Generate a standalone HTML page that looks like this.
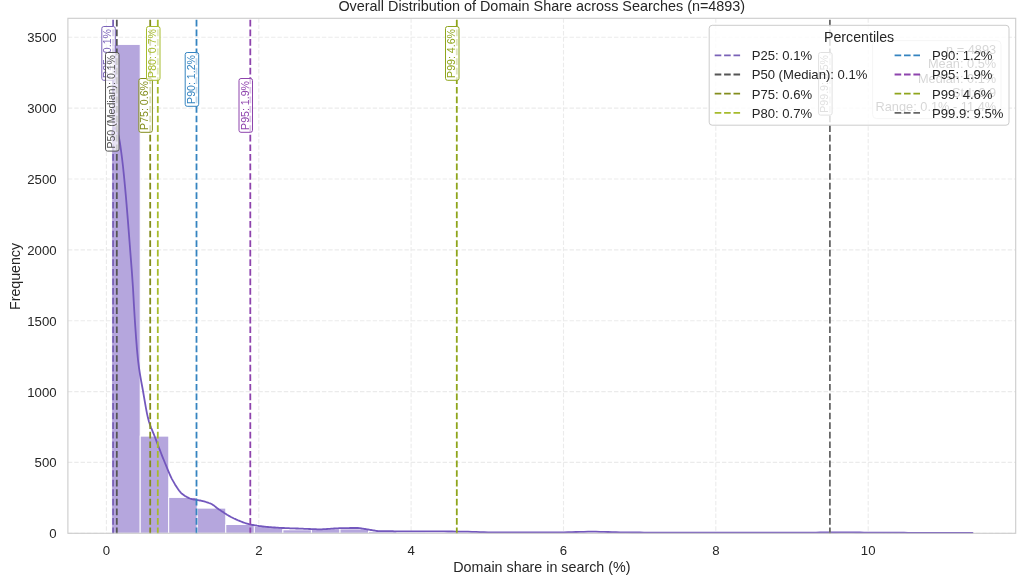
<!DOCTYPE html>
<html lang="en"><head><meta charset="utf-8"><title>Overall Distribution of Domain Share across Searches</title>
<style>html,body{margin:0;padding:0;background:#fff}body{width:1024px;height:576px;overflow:hidden}svg{display:block}text{font-family:"Liberation Sans",Arial,Helvetica,sans-serif}</style>
</head><body>
<svg width="1024" height="576" viewBox="0 0 1024 576">
<rect x="0" y="0" width="1024" height="576" fill="#ffffff"/>
<defs><clipPath id="ax"><rect x="67.9" y="18.3" width="947.8" height="515.4"/></clipPath></defs>
<g stroke="#ebebeb" stroke-width="1.1" stroke-dasharray="4.4 1.95" fill="none">
<line x1="106.4" y1="18.3" x2="106.4" y2="533.3"/>
<line x1="258.8" y1="18.3" x2="258.8" y2="533.3"/>
<line x1="411.1" y1="18.3" x2="411.1" y2="533.3"/>
<line x1="563.5" y1="18.3" x2="563.5" y2="533.3"/>
<line x1="715.8" y1="18.3" x2="715.8" y2="533.3"/>
<line x1="868.2" y1="18.3" x2="868.2" y2="533.3"/>
<line x1="67.9" y1="533.3" x2="1015.7" y2="533.3"/>
<line x1="67.9" y1="462.4" x2="1015.7" y2="462.4"/>
<line x1="67.9" y1="391.6" x2="1015.7" y2="391.6"/>
<line x1="67.9" y1="320.7" x2="1015.7" y2="320.7"/>
<line x1="67.9" y1="249.9" x2="1015.7" y2="249.9"/>
<line x1="67.9" y1="179.0" x2="1015.7" y2="179.0"/>
<line x1="67.9" y1="108.1" x2="1015.7" y2="108.1"/>
<line x1="67.9" y1="37.3" x2="1015.7" y2="37.3"/>
</g>
<g fill="#b5a6dd" stroke="#ffffff" stroke-width="1">
<rect x="111.6" y="44.4" width="28.6" height="488.9"/>
<rect x="140.2" y="436.1" width="28.6" height="97.2"/>
<rect x="168.7" y="497.4" width="28.6" height="35.9"/>
<rect x="197.2" y="508.1" width="28.6" height="25.2"/>
<rect x="225.8" y="524.5" width="28.6" height="8.8"/>
<rect x="254.3" y="526.5" width="28.6" height="6.8"/>
<rect x="282.9" y="529.8" width="28.6" height="3.5"/>
<rect x="311.4" y="528.8" width="28.6" height="4.5"/>
<rect x="340.0" y="528.9" width="28.6" height="4.4"/>
<rect x="368.5" y="531.6" width="28.6" height="1.7"/>
<rect x="397.1" y="532.2" width="28.6" height="1.1"/>
<rect x="425.6" y="532.4" width="28.6" height="0.9"/>
<rect x="454.2" y="532.6" width="28.6" height="0.7"/>
<rect x="482.8" y="532.7" width="28.6" height="0.6"/>
<rect x="511.3" y="532.9" width="28.6" height="0.4"/>
<rect x="539.9" y="532.9" width="28.6" height="0.4"/>
<rect x="568.4" y="532.7" width="28.6" height="0.6"/>
<rect x="597.0" y="532.9" width="28.6" height="0.4"/>
<rect x="625.5" y="533.0" width="28.6" height="0.3"/>
<rect x="654.1" y="533.0" width="28.6" height="0.3"/>
<rect x="682.6" y="533.2" width="28.6" height="0.1"/>
<rect x="711.2" y="533.0" width="28.6" height="0.3"/>
<rect x="739.7" y="533.2" width="28.6" height="0.1"/>
<rect x="768.2" y="533.2" width="28.6" height="0.1"/>
<rect x="796.8" y="533.2" width="28.6" height="0.1"/>
<rect x="825.4" y="533.0" width="28.6" height="0.3"/>
<rect x="853.9" y="533.2" width="28.6" height="0.1"/>
<rect x="911.0" y="533.2" width="28.6" height="0.1"/>
<rect x="939.6" y="533.2" width="28.6" height="0.1"/>
</g>
<path d="M112.0,134.0 L113.0,130.6 L114.0,128.8 L115.0,128.0 L116.0,128.9 L117.0,130.6 L118.0,133.6 L119.0,137.7 L120.0,143.5 L121.0,150.4 L122.0,158.0 L123.0,166.5 L124.0,176.2 L125.0,186.6 L126.0,197.7 L127.0,209.6 L128.0,221.9 L129.0,234.7 L130.0,247.8 L131.0,260.6 L132.0,273.6 L133.0,288.2 L134.0,306.2 L135.0,322.5 L136.0,336.9 L137.0,349.8 L138.0,360.0 L139.0,367.8 L140.0,374.3 L141.0,380.1 L142.0,385.5 L143.0,391.0 L144.0,396.8 L145.0,402.7 L146.0,408.4 L147.0,413.6 L148.0,418.1 L149.0,421.7 L150.0,424.8 L151.0,427.5 L152.0,429.9 L153.0,432.3 L154.0,434.7 L155.0,437.3 L156.0,439.9 L157.0,442.6 L158.0,445.2 L159.0,447.8 L160.0,450.4 L161.0,453.0 L162.0,455.6 L163.0,458.1 L164.0,460.5 L165.0,463.0 L166.0,465.4 L167.0,467.9 L168.0,470.3 L169.0,472.7 L170.0,475.0 L171.0,477.1 L172.0,479.1 L173.0,480.9 L174.0,482.6 L175.0,484.4 L176.0,486.0 L177.0,487.6 L178.0,489.1 L179.0,490.5 L180.0,491.7 L181.0,492.8 L182.0,493.8 L183.0,494.5 L184.0,495.2 L185.0,495.9 L186.0,496.5 L187.0,497.1 L188.0,497.6 L189.0,498.1 L190.0,498.5 L191.0,498.8 L192.0,499.1 L193.0,499.3 L194.0,499.5 L195.0,499.7 L196.0,499.8 L197.0,500.0 L198.0,500.1 L199.0,500.3 L200.0,500.5 L201.0,500.7 L202.0,501.0 L203.0,501.2 L204.0,501.4 L205.0,501.7 L206.0,502.0 L207.0,502.3 L208.0,502.6 L209.0,503.0 L210.0,503.3 L211.0,503.8 L212.0,504.3 L213.0,504.9 L214.0,505.6 L215.0,506.4 L216.0,507.2 L217.0,508.0 L218.0,508.7 L219.0,509.5 L220.0,510.1 L221.0,510.8 L222.0,511.4 L223.0,512.1 L224.0,512.8 L225.0,513.4 L226.0,514.0 L227.0,514.7 L228.0,515.3 L229.0,515.9 L230.0,516.4 L231.0,517.0 L232.0,517.5 L233.0,518.0 L234.0,518.5 L235.0,518.9 L236.0,519.4 L237.0,519.8 L238.0,520.3 L239.0,520.7 L240.0,521.1 L241.0,521.5 L242.0,521.9 L243.0,522.3 L244.0,522.7 L245.0,523.0 L246.0,523.3 L247.0,523.6 L248.0,523.9 L249.0,524.2 L250.0,524.4 L251.0,524.6 L252.0,524.8 L253.0,525.0 L254.0,525.2 L255.0,525.4 L256.0,525.5 L257.0,525.7 L258.0,525.8 L259.0,526.0 L260.0,526.1 L261.0,526.2 L262.0,526.4 L263.0,526.5 L264.0,526.6 L265.0,526.7 L266.0,526.8 L267.0,526.9 L268.0,527.0 L269.0,527.1 L270.0,527.2 L271.0,527.2 L272.0,527.3 L273.0,527.4 L274.0,527.5 L275.0,527.5 L276.0,527.6 L277.0,527.7 L278.0,527.7 L279.0,527.8 L280.0,527.8 L281.0,527.9 L282.0,528.0 L283.0,528.0 L284.0,528.0 L285.0,528.1 L286.0,528.1 L287.0,528.2 L288.0,528.2 L289.0,528.2 L290.0,528.3 L291.0,528.3 L292.0,528.3 L293.0,528.4 L294.0,528.4 L295.0,528.4 L296.0,528.5 L297.0,528.5 L298.0,528.5 L299.0,528.6 L300.0,528.6 L301.0,528.6 L302.0,528.7 L303.0,528.7 L304.0,528.8 L305.0,528.8 L306.0,528.9 L307.0,528.9 L308.0,528.9 L309.0,529.0 L310.0,529.0 L311.0,529.1 L312.0,529.1 L313.0,529.2 L314.0,529.2 L315.0,529.2 L316.0,529.2 L317.0,529.3 L318.0,529.3 L319.0,529.3 L320.0,529.3 L321.0,529.3 L322.0,529.3 L323.0,529.2 L324.0,529.2 L325.0,529.1 L326.0,529.1 L327.0,529.0 L328.0,528.9 L329.0,528.9 L330.0,528.8 L331.0,528.7 L332.0,528.6 L333.0,528.6 L334.0,528.5 L335.0,528.4 L336.0,528.4 L337.0,528.3 L338.0,528.3 L339.0,528.2 L340.0,528.2 L341.0,528.2 L342.0,528.2 L343.0,528.1 L344.0,528.1 L345.0,528.1 L346.0,528.1 L347.0,528.1 L348.0,528.1 L349.0,528.1 L350.0,528.0 L351.0,528.0 L352.0,528.0 L353.0,528.0 L354.0,528.0 L355.0,528.0 L356.0,528.0 L357.0,528.0 L358.0,528.0 L359.0,528.1 L360.0,528.2 L361.0,528.3 L362.0,528.5 L363.0,528.6 L364.0,528.8 L365.0,529.0 L366.0,529.2 L367.0,529.4 L368.0,529.5 L369.0,529.6 L370.0,529.8 L371.0,530.0 L372.0,530.2 L373.0,530.4 L374.0,530.5 L375.0,530.7 L376.0,530.9 L377.0,531.0 L378.0,531.1 L379.0,531.2 L380.0,531.2 L381.0,531.2 L382.0,531.2 L383.0,531.2 L384.0,531.2 L385.0,531.2 L386.0,531.2 L387.0,531.2 L388.0,531.2 L389.0,531.2 L390.0,531.2 L391.0,531.2 L392.0,531.2 L393.0,531.2 L394.0,531.3 L395.0,531.3 L396.0,531.3 L397.0,531.3 L398.0,531.3 L399.0,531.3 L400.0,531.3 L404.0,531.3 L408.0,531.3 L412.0,531.3 L416.0,531.3 L420.0,531.3 L424.0,531.3 L428.0,531.3 L432.0,531.4 L436.0,531.4 L440.0,531.4 L444.0,531.4 L448.0,531.5 L452.0,531.5 L456.0,531.6 L460.0,531.6 L464.0,531.7 L468.0,531.7 L472.0,531.8 L476.0,531.9 L480.0,532.1 L484.0,532.2 L488.0,532.3 L492.0,532.3 L496.0,532.4 L500.0,532.4 L504.0,532.4 L508.0,532.4 L512.0,532.4 L516.0,532.4 L520.0,532.4 L524.0,532.4 L528.0,532.4 L532.0,532.4 L536.0,532.4 L540.0,532.4 L544.0,532.3 L548.0,532.3 L552.0,532.3 L556.0,532.3 L560.0,532.3 L564.0,532.3 L568.0,532.2 L572.0,532.1 L576.0,532.0 L580.0,531.9 L584.0,531.8 L588.0,531.7 L592.0,531.7 L596.0,531.7 L600.0,531.8 L604.0,531.9 L608.0,532.0 L612.0,532.1 L616.0,532.2 L620.0,532.3 L624.0,532.4 L628.0,532.4 L632.0,532.5 L636.0,532.5 L640.0,532.5 L644.0,532.6 L648.0,532.6 L652.0,532.6 L656.0,532.6 L660.0,532.7 L664.0,532.7 L668.0,532.7 L672.0,532.7 L676.0,532.7 L680.0,532.7 L684.0,532.7 L688.0,532.7 L692.0,532.7 L696.0,532.7 L700.0,532.7 L704.0,532.7 L708.0,532.7 L712.0,532.7 L716.0,532.7 L720.0,532.7 L724.0,532.7 L728.0,532.7 L732.0,532.7 L736.0,532.7 L740.0,532.7 L744.0,532.7 L748.0,532.7 L752.0,532.7 L756.0,532.7 L760.0,532.7 L764.0,532.7 L768.0,532.7 L772.0,532.7 L776.0,532.7 L780.0,532.7 L784.0,532.7 L788.0,532.7 L792.0,532.6 L796.0,532.6 L800.0,532.6 L804.0,532.6 L808.0,532.6 L812.0,532.6 L816.0,532.6 L820.0,532.5 L824.0,532.5 L828.0,532.5 L832.0,532.5 L836.0,532.5 L840.0,532.4 L844.0,532.4 L848.0,532.4 L852.0,532.4 L856.0,532.5 L860.0,532.5 L864.0,532.6 L868.0,532.6 L872.0,532.6 L876.0,532.7 L880.0,532.7 L884.0,532.7 L888.0,532.7 L892.0,532.7 L896.0,532.7 L900.0,532.7 L904.0,532.7 L908.0,532.8 L912.0,532.8 L916.0,532.8 L920.0,532.8 L924.0,532.8 L928.0,532.8 L932.0,532.8 L936.0,532.8 L940.0,532.8 L944.0,532.8 L948.0,532.8 L952.0,532.8 L956.0,532.8 L960.0,532.8 L964.0,532.8 L968.0,532.8 L972.0,532.8 L972.5,532.8" fill="none" stroke="#7357bd" stroke-width="1.8" stroke-linejoin="round" stroke-linecap="round"/>
<line x1="113.1" y1="534.3" x2="113.1" y2="18.3" stroke="#7a62b8" stroke-width="1.8" stroke-dasharray="6.69 2.89" clip-path="url(#ax)"/>
<line x1="116.8" y1="534.3" x2="116.8" y2="18.3" stroke="#555555" stroke-width="1.8" stroke-dasharray="6.69 2.89" clip-path="url(#ax)"/>
<line x1="150.2" y1="534.3" x2="150.2" y2="18.3" stroke="#838d1c" stroke-width="1.8" stroke-dasharray="6.69 2.89" clip-path="url(#ax)"/>
<line x1="157.8" y1="534.3" x2="157.8" y2="18.3" stroke="#a6bb2c" stroke-width="1.8" stroke-dasharray="6.69 2.89" clip-path="url(#ax)"/>
<line x1="196.5" y1="534.3" x2="196.5" y2="18.3" stroke="#3584c0" stroke-width="1.8" stroke-dasharray="6.69 2.89" clip-path="url(#ax)"/>
<line x1="250.3" y1="534.3" x2="250.3" y2="18.3" stroke="#8e44ad" stroke-width="1.8" stroke-dasharray="6.69 2.89" clip-path="url(#ax)"/>
<line x1="456.8" y1="534.3" x2="456.8" y2="18.3" stroke="#8fa51c" stroke-width="1.8" stroke-dasharray="6.69 2.89" clip-path="url(#ax)"/>
<line x1="829.9" y1="534.3" x2="829.9" y2="18.3" stroke="#666666" stroke-width="1.8" stroke-dasharray="6.69 2.89" clip-path="url(#ax)"/>
<rect x="67.9" y="18.3" width="947.8" height="515.0" fill="none" stroke="#cccccc" stroke-width="1.1"/>
<rect x="872.6" y="40.6" width="128.4" height="78" rx="4" ry="4" fill="#ffffff" fill-opacity="0.9" stroke="#cccccc" stroke-width="1"/>
<g font-size="12.8" fill="#333333" text-anchor="end">
<text x="996.2" y="54.0">n = 4893</text>
<text x="996.2" y="68.2">Mean: 0.5%</text>
<text x="996.2" y="82.5">Median: 0.1%</text>
<text x="996.2" y="96.8">Std: 0.9</text>
<text x="996.2" y="111.0">Range: 0.1% - 11.4%</text>
</g>
<rect x="101.8" y="26.5" width="13.5" height="53.8" rx="2" ry="2" fill="#ffffff" fill-opacity="0.7" stroke="#7a62b8" stroke-width="1"/>
<text transform="translate(111.3,77.9) rotate(-90)" font-size="10.6" fill="#7a62b8">P25: 0.1%</text>
<rect x="105.5" y="52.5" width="13.5" height="98.6" rx="2" ry="2" fill="#ffffff" fill-opacity="0.7" stroke="#555555" stroke-width="1"/>
<text transform="translate(115.0,148.6) rotate(-90)" font-size="10.6" fill="#555555">P50 (Median): 0.1%</text>
<rect x="138.9" y="78.5" width="13.5" height="53.8" rx="2" ry="2" fill="#ffffff" fill-opacity="0.7" stroke="#838d1c" stroke-width="1"/>
<text transform="translate(148.4,129.9) rotate(-90)" font-size="10.6" fill="#838d1c">P75: 0.6%</text>
<rect x="146.5" y="26.5" width="13.5" height="53.8" rx="2" ry="2" fill="#ffffff" fill-opacity="0.7" stroke="#a6bb2c" stroke-width="1"/>
<text transform="translate(156.0,77.9) rotate(-90)" font-size="10.6" fill="#a6bb2c">P80: 0.7%</text>
<rect x="185.2" y="52.5" width="13.5" height="53.8" rx="2" ry="2" fill="#ffffff" fill-opacity="0.7" stroke="#3584c0" stroke-width="1"/>
<text transform="translate(194.7,103.9) rotate(-90)" font-size="10.6" fill="#3584c0">P90: 1.2%</text>
<rect x="239.0" y="78.5" width="13.5" height="53.8" rx="2" ry="2" fill="#ffffff" fill-opacity="0.7" stroke="#8e44ad" stroke-width="1"/>
<text transform="translate(248.5,129.9) rotate(-90)" font-size="10.6" fill="#8e44ad">P95: 1.9%</text>
<rect x="445.5" y="26.5" width="13.5" height="53.8" rx="2" ry="2" fill="#ffffff" fill-opacity="0.7" stroke="#8fa51c" stroke-width="1"/>
<text transform="translate(455.0,77.9) rotate(-90)" font-size="10.6" fill="#8fa51c">P99: 4.6%</text>
<rect x="818.6" y="52.5" width="13.5" height="62.6" rx="2" ry="2" fill="#ffffff" fill-opacity="0.7" stroke="#666666" stroke-width="1"/>
<text transform="translate(828.1,112.7) rotate(-90)" font-size="10.6" fill="#666666">P99.9: 9.5%</text>
<rect x="709.2" y="25.3" width="299.8" height="99.9" rx="3" ry="3" fill="#ffffff" fill-opacity="0.8" stroke="#cccccc" stroke-width="1"/>
<text x="859.1" y="41.8" font-size="14.2" fill="#262626" text-anchor="middle">Percentiles</text>
<g font-size="13.1" fill="#262626">
<line x1="714.7" y1="55.3" x2="740.7" y2="55.3" stroke="#7a62b8" stroke-width="1.8" stroke-dasharray="6.6 2.8"/>
<text x="751.7" y="60.2">P25: 0.1%</text>
<line x1="714.7" y1="74.5" x2="740.7" y2="74.5" stroke="#555555" stroke-width="1.8" stroke-dasharray="6.6 2.8"/>
<text x="751.7" y="79.4">P50 (Median): 0.1%</text>
<line x1="714.7" y1="93.7" x2="740.7" y2="93.7" stroke="#838d1c" stroke-width="1.8" stroke-dasharray="6.6 2.8"/>
<text x="751.7" y="98.6">P75: 0.6%</text>
<line x1="714.7" y1="112.9" x2="740.7" y2="112.9" stroke="#a6bb2c" stroke-width="1.8" stroke-dasharray="6.6 2.8"/>
<text x="751.7" y="117.8">P80: 0.7%</text>
<line x1="894.6" y1="55.3" x2="920.6" y2="55.3" stroke="#3584c0" stroke-width="1.8" stroke-dasharray="6.6 2.8"/>
<text x="932.1" y="60.2">P90: 1.2%</text>
<line x1="894.6" y1="74.5" x2="920.6" y2="74.5" stroke="#8e44ad" stroke-width="1.8" stroke-dasharray="6.6 2.8"/>
<text x="932.1" y="79.4">P95: 1.9%</text>
<line x1="894.6" y1="93.7" x2="920.6" y2="93.7" stroke="#8fa51c" stroke-width="1.8" stroke-dasharray="6.6 2.8"/>
<text x="932.1" y="98.6">P99: 4.6%</text>
<line x1="894.6" y1="112.9" x2="920.6" y2="112.9" stroke="#666666" stroke-width="1.8" stroke-dasharray="6.6 2.8"/>
<text x="932.1" y="117.8">P99.9: 9.5%</text>
</g>
<g font-size="13.2" fill="#262626">
<text x="106.4" y="554.6" text-anchor="middle">0</text>
<text x="258.8" y="554.6" text-anchor="middle">2</text>
<text x="411.1" y="554.6" text-anchor="middle">4</text>
<text x="563.5" y="554.6" text-anchor="middle">6</text>
<text x="715.8" y="554.6" text-anchor="middle">8</text>
<text x="868.2" y="554.6" text-anchor="middle">10</text>
<text x="56.6" y="538.3" text-anchor="end">0</text>
<text x="56.6" y="467.4" text-anchor="end">500</text>
<text x="56.6" y="396.6" text-anchor="end">1000</text>
<text x="56.6" y="325.7" text-anchor="end">1500</text>
<text x="56.6" y="254.9" text-anchor="end">2000</text>
<text x="56.6" y="184.0" text-anchor="end">2500</text>
<text x="56.6" y="113.1" text-anchor="end">3000</text>
<text x="56.6" y="42.3" text-anchor="end">3500</text>
</g>
<text x="541.8" y="11.3" font-size="14.4" fill="#262626" text-anchor="middle">Overall Distribution of Domain Share across Searches (n=4893)</text>
<text x="541.9" y="572.4" font-size="14.3" fill="#262626" text-anchor="middle">Domain share in search (%)</text>
<text transform="translate(20.3,276.5) rotate(-90)" font-size="14.2" fill="#262626" text-anchor="middle">Frequency</text>
</svg>
</body></html>
